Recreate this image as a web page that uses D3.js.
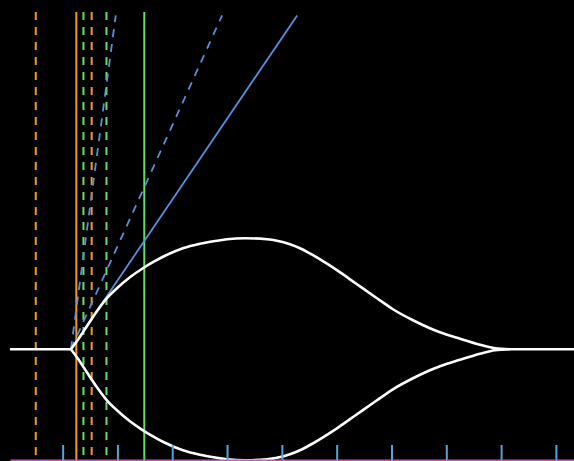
<!DOCTYPE html>
<html>
<head>
<meta charset="utf-8">
<script src="https://cdn.jsdelivr.net/npm/d3@7"></script>
<style>
  html, body { margin: 0; padding: 0; background: #000; }
  svg { display: block; }
</style>
</head>
<body>
<svg id="chart" width="574" height="461"></svg>
<script>
// Envelope of the expanding region: position along the axis and half-width
const lobeX = [1.151, 1.261, 1.443, 1.626, 1.808, 1.991, 2.228, 2.465, 2.648, 2.867, 3.195,
               3.505, 3.816, 3.998, 4.327, 4.728, 4.911, 5.148, 5.330, 5.568, 5.750, 6.005,
               6.370, 6.735, 7.027, 7.392, 7.702, 7.885, 8.250, 8.615, 8.889, 9.162];
const lobeHalf = [0, 0.146, 0.420, 0.693, 0.931, 1.113, 1.314, 1.478, 1.588, 1.706, 1.843,
                  1.925, 1.980, 2.007, 2.026, 2.007, 1.980, 1.916, 1.843, 1.715, 1.606, 1.442,
                  1.186, 0.931, 0.730, 0.529, 0.383, 0.310, 0.192, 0.082, 0.018, 0];
// Flat axis segments before and after the envelope
const flatLeft = [0.04, 1.151];
const flatRight = [9.162, 10.4];

// Vertical markers
const markerX = [0.51, 1.25, 1.38, 1.53, 1.80, 2.49];
const markerColor = ["orange", "orange", "green", "orange", "green", "green"];
const markerDashed = [true, false, true, true, true, false];

// Rays leaving the origin of the envelope
const rayOrigin = [1.151, 0];
const rayEndX = [1.97, 3.91, 5.28];
const rayEndY = [6.09, 6.09, 6.09];
const rayDashed = [true, true, false];

// Axis ticks
const tickValues = [1, 2, 3, 4, 5, 6, 7, 8, 9, 10];

const palette = { orange: "#f29a1a", green: "#66dd66", blue: "#5a8ee0", white: "#ffffff" };

const svg = d3.select("#chart");
const W = 574, H = 461;
svg.append("rect").attr("width", W).attr("height", H).attr("fill", "#000");

const x = d3.scaleLinear().domain([0.04, 10.33]).range([10, 574]);
const y = d3.scaleLinear().domain([-2.02, 6.17]).range([460, 11]);

// vertical markers
markerX.forEach((mx, i) => {
  svg.append("line")
    .attr("x1", x(mx)).attr("x2", x(mx))
    .attr("y1", y(6.15)).attr("y2", y(-2.02))
    .attr("stroke", palette[markerColor[i]])
    .attr("stroke-width", 2)
    .attr("stroke-dasharray", markerDashed[i] ? "8,7" : null);
});

// rays
rayEndX.forEach((ex, i) => {
  svg.append("line")
    .attr("x1", x(rayOrigin[0])).attr("y1", y(rayOrigin[1]))
    .attr("x2", x(ex)).attr("y2", y(rayEndY[i]))
    .attr("stroke", palette.blue)
    .attr("stroke-width", 1.8)
    .attr("stroke-dasharray", rayDashed[i] ? "8,7" : null);
});

// envelope
const lobe = lobeX.map((v, i) => ({ x: v, h: lobeHalf[i] }));
const upper = d3.line().x(d => x(d.x)).y(d => y(d.h)).curve(d3.curveMonotoneX);
const lower = d3.line().x(d => x(d.x)).y(d => y(-d.h)).curve(d3.curveMonotoneX);
const flat = d3.line().x(d => x(d)).y(() => y(0));

[upper(lobe), lower(lobe), flat(flatLeft), flat(flatRight)].forEach(dPath => {
  svg.append("path")
    .attr("d", dPath)
    .attr("fill", "none")
    .attr("stroke", palette.white)
    .attr("stroke-width", 2.6);
});

// bottom axis
const axis = d3.axisBottom(x)
  .tickValues(tickValues)
  .tickSizeInner(-15)
  .tickSizeOuter(0)
  .tickFormat("");
const g = svg.append("g").attr("transform", `translate(0,${y(-2.02)})`).call(axis);
g.select(".domain").attr("stroke", "#c455c4").attr("stroke-width", 2);
g.selectAll(".tick line").attr("stroke", "#55a6d6").attr("stroke-width", 2);
</script>
</body>
</html>
